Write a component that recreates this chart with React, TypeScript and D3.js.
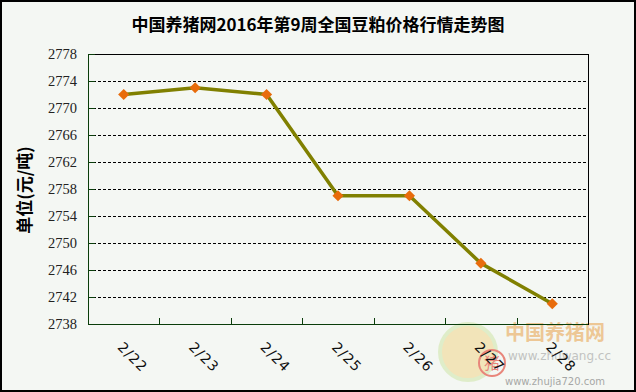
import * as d3 from "d3";
import { useEffect, useRef } from "react";

const dates = ["2/22", "2/23", "2/24", "2/25", "2/26", "2/27", "2/28"];
const prices = [2772, 2773, 2772, 2757, 2757, 2747, 2741];
const yTicks = [2738, 2742, 2746, 2750, 2754, 2758, 2762, 2766, 2770, 2774, 2778];

const W = 636;
const H = 392;

export default function App() {
  const ref = useRef<SVGSVGElement | null>(null);

  useEffect(() => {
    if (!ref.current) return;
    const margin = { top: 54, right: 48, bottom: 68, left: 88 };
    const innerW = W - margin.left - margin.right;
    const innerH = H - margin.top - margin.bottom;

    const x = d3.scaleBand<string>().domain(dates).range([0, innerW]);
    const y = d3.scaleLinear().domain([2738, 2778]).range([innerH, 0]);

    const svg = d3.select(ref.current);
    svg.selectAll("*").remove();

    svg.append("rect").attr("x", 1).attr("y", 1).attr("width", W - 2).attr("height", H - 2)
      .attr("fill", "#f4f7f3").attr("stroke", "#000").attr("stroke-width", 2);

    svg.append("text")
      .attr("x", W / 2).attr("y", 31)
      .attr("text-anchor", "middle")
      .style("font-family", "'Noto Sans CJK SC', sans-serif")
      .style("font-weight", "bold")
      .style("font-size", "17px")
      .attr("fill", "#000")
      .text("中国养猪网2016年第9周全国豆粕价格行情走势图");

    // watermark (rough)
    const wm = svg.append("g").attr("opacity", 0.55);
    wm.append("circle").attr("cx", 468).attr("cy", 352).attr("r", 28).attr("fill", "#f1d58a").attr("stroke", "#cfe6a8").attr("stroke-width", 4);
    wm.append("circle").attr("cx", 492).attr("cy", 363).attr("r", 13).attr("fill", "none").attr("stroke", "#e02a1a").attr("stroke-width", 2);
    wm.append("text").attr("x", 492).attr("y", 369).attr("text-anchor", "middle").attr("fill", "#e02a1a")
      .style("font-family", "'Noto Sans CJK SC'").style("font-size", "16px").text("猪");
    wm.append("text").attr("x", 505).attr("y", 340).attr("fill", "#e8a14a")
      .style("font-family", "'Noto Sans CJK SC'").style("font-weight", "bold").style("font-size", "20px").text("中国养猪网");
    wm.append("text").attr("x", 508).attr("y", 360).attr("fill", "#999")
      .style("font-family", "'DejaVu Sans'").style("font-size", "12px").text("www.zhuwang.cc");
    wm.append("text").attr("x", 505).attr("y", 385).attr("fill", "#666")
      .style("font-family", "'DejaVu Sans'").style("font-size", "10px").text("www.zhujia720.com");

    const g = svg.append("g").attr("transform", `translate(${margin.left},${margin.top})`);

    // gridlines
    g.append("g").selectAll("line").data(yTicks.slice(1, -1)).join("line")
      .attr("x1", 0).attr("x2", innerW)
      .attr("y1", (d) => Math.round(y(d)) + 0.5).attr("y2", (d) => Math.round(y(d)) + 0.5)
      .attr("stroke", "#000").attr("stroke-dasharray", "3,2").attr("stroke-width", 1);

    // plot frame
    g.append("rect").attr("x", 0.5).attr("y", 0.5).attr("width", innerW).attr("height", innerH)
      .attr("fill", "none").attr("stroke", "#000");

    const axisColor = "#0a3d0a";
    const yAxis = g.append("g").call(d3.axisLeft(y).tickValues(yTicks).tickSize(-7).tickPadding(11).tickFormat(d3.format("d")));
    yAxis.select(".domain").attr("stroke", axisColor);
    yAxis.selectAll(".tick line").attr("stroke", axisColor);
    yAxis.selectAll("text")
      .style("font-family", "'Liberation Serif', serif").style("font-size", "14.5px").attr("fill", "#222");

    const xAxis = g.append("g").attr("transform", `translate(0,${innerH})`);
    xAxis.append("line").attr("x1", 0).attr("x2", innerW).attr("y1", 0.5).attr("y2", 0.5).attr("stroke", axisColor);
    xAxis.selectAll("line.tk").data(dates.slice(1)).join("line").attr("class", "tk")
      .attr("x1", (d) => Math.round(x(d)!) + 0.5).attr("x2", (d) => Math.round(x(d)!) + 0.5)
      .attr("y1", 0).attr("y2", -6).attr("stroke", axisColor);
    xAxis.selectAll("text").data(dates).join("text")
      .attr("transform", (d) => `translate(${x(d)! + x.bandwidth() / 2 + 9},${33}) rotate(45)`)
      .attr("text-anchor", "middle").attr("dominant-baseline", "central")
      .style("font-family", "'DejaVu Sans', sans-serif").style("font-size", "14px")
      .style("letter-spacing", "1px").attr("fill", "#111")
      .text((d) => d);

    const pts = dates.map((d, i) => ({ d, v: prices[i] }));
    const line = d3.line<(typeof pts)[0]>()
      .x((p) => x(p.d)! + x.bandwidth() / 2)
      .y((p) => y(p.v));
    g.append("path").datum(pts).attr("d", line).attr("fill", "none")
      .attr("stroke", "#808000").attr("stroke-width", 3.5);

    g.selectAll("path.mk").data(pts).join("path").attr("class", "mk")
      .attr("d", d3.symbol(d3.symbolSquare, 62)())
      .attr("transform", (p) => `translate(${x(p.d)! + x.bandwidth() / 2},${y(p.v)}) rotate(45)`)
      .attr("fill", "#e86c0c");

    svg.append("text")
      .attr("transform", `translate(31,${190}) rotate(-90)`)
      .attr("text-anchor", "middle")
      .style("font-family", "'Noto Sans CJK SC', sans-serif")
      .style("font-weight", "bold").style("font-size", "17px").attr("fill", "#000")
      .text("单位(元/吨)");
  }, []);

  return (
    <div style={{ position: "fixed", left: 0, top: 0 }}>
      <svg ref={ref} width={W} height={H} style={{ display: "block" }} />
    </div>
  );
}
